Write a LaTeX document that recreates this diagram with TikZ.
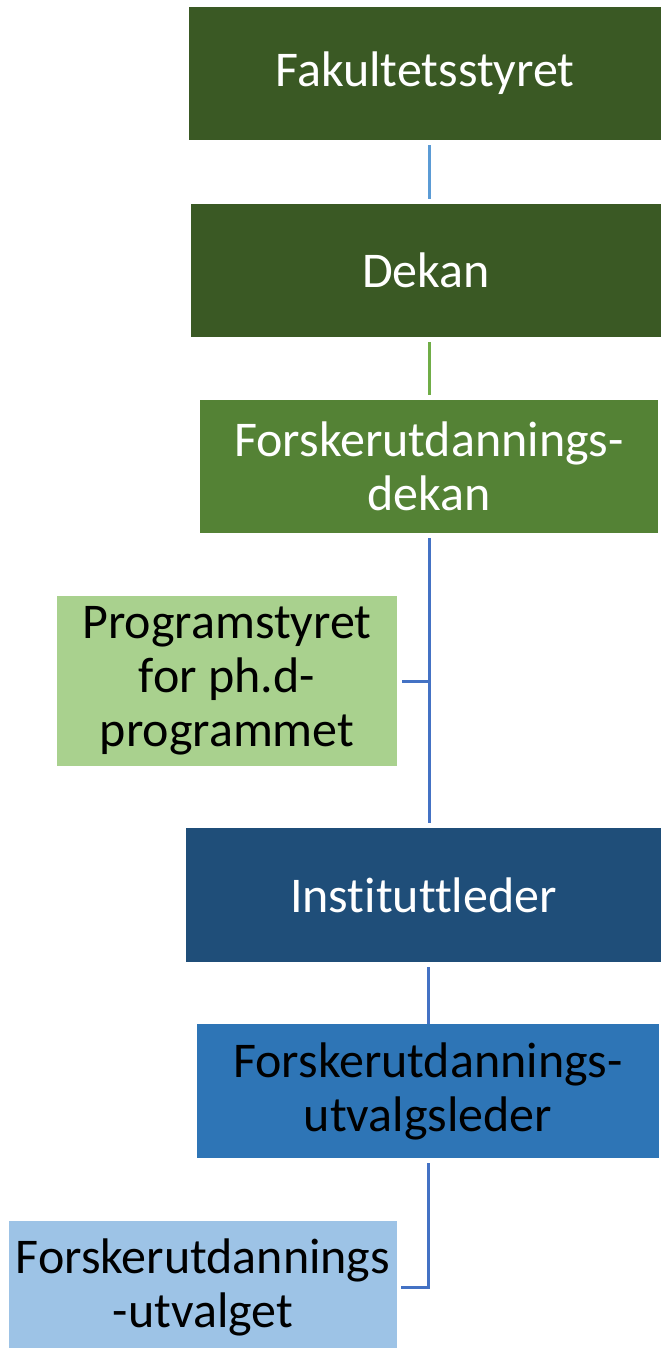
\documentclass[tikz,border=0pt]{standalone}
\usepackage{fontspec}
\setmainfont{Carlito}[Ligatures=NoCommon]
\usepackage{tikz}
\definecolor{darkgreen}{HTML}{3A5924}
\definecolor{midgreen}{HTML}{548235}
\definecolor{lightgreen}{HTML}{A9D18E}
\definecolor{darkblue}{HTML}{1F4E79}
\definecolor{midblue}{HTML}{2E75B6}
\definecolor{lightblue}{HTML}{9DC3E6}
\definecolor{linkblue}{HTML}{4472C4}
\definecolor{linksky}{HTML}{5B9BD5}
\definecolor{linkgreen}{HTML}{70AD47}
\begin{document}
\begin{tikzpicture}[x=1pt,y=-1pt,
    box/.style={inner sep=0pt,align=center,minimum height=133pt,
      font=\fontsize{50}{54}\selectfont},
    conn/.style={line width=3pt,draw=linkblue,shorten <=5pt,shorten >=5pt}]
      \useasboundingbox (0,0) rectangle (661,1348);
      \node[box,fill=darkgreen,text=white,minimum width=472pt] (fak) at (425,73.5) {Fakultetsstyret};
      \node[box,fill=darkgreen,text=white,minimum width=470pt] (dekan) at (426,270.5) {Dekan};
      \node[box,fill=midgreen,text=white,minimum width=458pt] (fdekan) at (429,466.5) {Forskerutdannings-\\dekan};
      \node[box,fill=lightgreen,minimum width=340pt,minimum height=170pt] (prog) at (227,681) {Programstyret\\for ph.d-\\programmet};
      \node[box,fill=darkblue,text=white,minimum width=475pt,minimum height=134pt] (inst) at (423.5,895) {Instituttleder};
      \node[box,fill=midblue,minimum width=462pt,minimum height=134pt] (uleder) at (428,1091) {Forskerutdannings-\\utvalgsleder};
      \node[box,fill=lightblue,minimum width=388pt] (utvalget) at (203,1287.5) {Forskerutdannings\\-utvalget};
      \draw[conn,draw=linksky] (fak.south -| fdekan.south) -- (dekan.north -| fdekan.south);
      \draw[conn,draw=linkgreen] (dekan.south -| fdekan.south) -- (fdekan.north);
      \draw[conn] (fdekan.south) -- (fdekan.south |- inst.north);
      \draw[conn,shorten >=0pt] (prog.east) -- (prog.east -| fdekan.south);
      \draw[conn,shorten >=0pt] (inst.south -| uleder.south) -- (uleder.north);
      \draw[conn,shorten >=4pt] (uleder.south) |- (utvalget.east);
    \end{tikzpicture}
\end{document}
